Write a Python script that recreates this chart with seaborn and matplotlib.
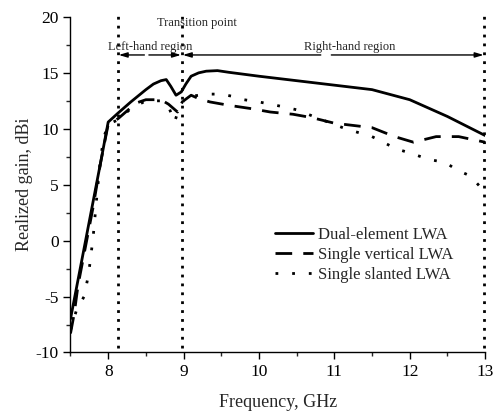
import numpy as np
import pandas as pd
import matplotlib
matplotlib.use("Agg")
import matplotlib.pyplot as plt
import seaborn as sns
from matplotlib.lines import Line2D

# ---- data ----
dual_x = [7.5, 7.6, 7.7, 7.8, 7.9, 8.0, 8.13, 8.3, 8.5, 8.6, 8.7, 8.77, 8.83, 8.9, 8.97,
          9.03, 9.1, 9.2, 9.3, 9.45, 9.6, 10.0, 10.5, 11.0, 11.5, 12.0, 12.5, 13.0]
dual_y = [-7.0, -3.5, 0.0, 3.5, 7.0, 10.6, 11.4, 12.4, 13.5, 14.0, 14.3, 14.4, 13.8, 13.0, 13.3,
          14.0, 14.7, 15.0, 15.15, 15.2, 15.05, 14.7, 14.3, 13.9, 13.5, 12.6, 11.1, 9.4]

vert_x = [7.5, 7.55, 7.6, 7.7, 7.8, 7.9, 8.0, 8.13, 8.25, 8.37, 8.5, 8.7, 8.8, 8.92, 9.0,
          9.1, 9.2, 9.35, 9.6, 9.9, 10.15, 10.45, 10.7, 11.0, 11.25, 11.5, 11.8, 12.05,
          12.35, 12.65, 13.0]
vert_y = [-8.3, -6.5, -4.0, -0.5, 3.0, 7.0, 10.4, 10.9, 11.6, 12.3, 12.6, 12.6, 12.2, 11.5, 12.5,
          13.0, 12.7, 12.4, 12.1, 11.8, 11.5, 11.3, 11.0, 10.5, 10.3, 10.1, 9.3, 8.8,
          9.3, 9.3, 8.8]

slant_x = [7.5, 7.58, 7.68, 7.74, 7.8, 7.85, 7.9, 7.95, 8.0, 8.13, 8.3, 8.5, 8.7, 8.8, 8.88,
           8.95, 9.0, 9.1, 9.3, 9.5, 9.65, 9.8, 10.0, 10.3, 10.5, 10.8, 11.15, 11.3, 11.5,
           11.65, 11.82, 12.0, 12.15, 12.3, 12.47, 12.63, 12.8, 12.95, 13.0]
slant_y = [-8.0, -6.2, -5.0, -3.0, 0.3, 4.0, 7.5, 9.4, 10.4, 10.8, 11.8, 12.5, 12.5, 12.0, 10.6,
           12.0, 12.6, 12.9, 13.1, 13.1, 12.9, 12.6, 12.4, 12.0, 11.7, 10.9, 10.0, 9.7, 9.3,
           8.8, 8.2, 7.85, 7.5, 7.2, 7.0, 6.3, 5.8, 4.7, 4.3]

series_names = ["Dual-element LWA", "Single vertical LWA", "Single slanted LWA"]
region_lines = [8.13, 8.975, 12.99]
xticks = [8, 9, 10, 11, 12, 13]
yticks = [-10, -5, 0, 5, 10, 15, 20]

df = pd.concat([
    pd.DataFrame({"f": dual_x, "g": dual_y, "s": series_names[0]}),
    pd.DataFrame({"f": vert_x, "g": vert_y, "s": series_names[1]}),
    pd.DataFrame({"f": slant_x, "g": slant_y, "s": series_names[2]}),
], ignore_index=True)

sns.set_style("ticks")
plt.rcParams["font.family"] = ["Liberation Serif", "DejaVu Serif"]
plt.rcParams["axes.unicode_minus"] = False

fig = plt.figure(figsize=(4.93, 4.13), dpi=100)
ax = fig.add_axes([0.143, 0.1465, 0.841, 0.8125])

dashes = {series_names[0]: "", series_names[1]: (6, 4), series_names[2]: (1, 5)}
palette = {n: "black" for n in series_names}
sns.lineplot(data=df, x="f", y="g", hue="s", style="s", palette=palette, dashes=dashes,
             estimator=None, sort=False, linewidth=2, ax=ax, legend=False)

# vertical region lines
for xv in region_lines:
    ax.plot([xv, xv], [-9.6, 20.3], color="black", lw=2.0, linestyle=(0, (1, 2.2)),
            clip_on=False)

# region arrows
ay = 16.6
arrow_kw = dict(arrowstyle="-|>,head_length=0.5,head_width=0.15", color="black", lw=1.0,
                shrinkA=0, shrinkB=0)
ax.annotate("", xy=(8.14, ay), xytext=(8.48, ay), arrowprops=arrow_kw)
ax.annotate("", xy=(8.965, ay), xytext=(8.54, ay), arrowprops=arrow_kw)
ax.annotate("", xy=(8.99, ay), xytext=(10.82, ay), arrowprops=arrow_kw)
ax.annotate("", xy=(12.98, ay), xytext=(10.96, ay), arrowprops=arrow_kw)

ax.text(8.56, 17.35, "Left-hand region", ha="center", va="center", fontsize=9)
ax.text(11.21, 17.35, "Right-hand region", ha="center", va="center", fontsize=9)
ax.text(9.18, 19.5, "Transition point", ha="center", va="center", fontsize=9)

ax.set_xlim(7.5, 13)
ax.set_ylim(-10, 20)
ax.set_xticks(xticks)
ax.set_yticks(yticks)
ax.set_xticks(np.arange(7.5, 13.01, 0.5), minor=True)
ax.set_yticks(np.arange(-10, 20.01, 2.5), minor=True)
ax.tick_params(which="major", direction="out", length=5, width=1, labelsize=12.5, colors="black")
ax.tick_params(which="minor", direction="out", length=3, width=1)
for s in ["top", "right"]:
    ax.spines[s].set_visible(False)
for s in ["left", "bottom"]:
    ax.spines[s].set_linewidth(1.0)
    ax.spines[s].set_color("black")

ax.set_xlabel("Frequency, GHz", fontsize=13, labelpad=10)
ax.set_ylabel("Realized gain, dBi", fontsize=13, labelpad=2)

handles = [Line2D([], [], color="black", lw=2, linestyle="-"),
           Line2D([], [], color="black", lw=2, linestyle=(0, (6, 4))),
           Line2D([], [], color="black", lw=2, linestyle=(0, (1, 5)))]
ax.legend(handles, series_names, loc="upper left", bbox_to_anchor=(0.472, 0.40),
          frameon=False, fontsize=12, handlelength=2.3, handletextpad=0.3,
          labelspacing=0.25, borderpad=0)

fig.savefig("out.png", dpi=100)
